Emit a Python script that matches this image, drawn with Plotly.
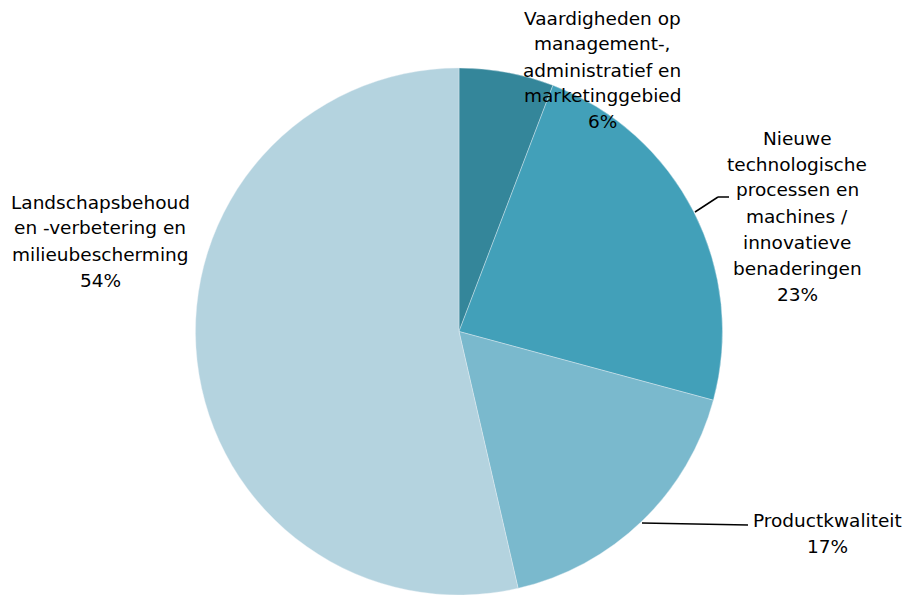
import plotly.graph_objects as go

categories = [
    "Vaardigheden op management-, administratief en marketinggebied",
    "Nieuwe technologische processen en machines / innovatieve benaderingen",
    "Productkwaliteit",
    "Landschapsbehoud en -verbetering en milieubescherming",
]
label_lines = [
    ["Vaardigheden op", "management-,", "administratief en", "marketinggebied"],
    ["Nieuwe", "technologische", "processen en", "machines /", "innovatieve", "benaderingen"],
    ["Productkwaliteit"],
    ["Landschapsbehoud", "en -verbetering en", "milieubescherming"],
]
values = [5.8, 23.4, 17.2, 53.6]
colors = ["#34869a", "#42a0b9", "#7ab9cd", "#b4d3df"]

W, H = 905, 595
# label block centres (px) and first-line y
label_pos = [(602, 18), (797, 138), (827, 520), (100, 202)]
line_step = 26
FONT = dict(family="DejaVu Sans", size=18.5, color="#000000")

fig = go.Figure()
fig.add_trace(go.Pie(
    labels=categories,
    values=values,
    sort=False,
    direction="clockwise",
    rotation=0,
    marker=dict(colors=colors, line=dict(color="#e8f1f4", width=0.4)),
    textinfo="none",
    hoverinfo="label+percent",
    showlegend=False,
    domain=dict(x=[195.5 / W, 722.5 / W], y=[0, (H - 68) / H]),
))

total = sum(values)
for lines, v, (cx, y0) in zip(label_lines, values, label_pos):
    all_lines = lines + [f"{round(v / total * 100)}%"]
    for i, t in enumerate(all_lines):
        y = y0 + i * line_step
        fig.add_annotation(
            x=cx / W, y=1 - y / H, xref="paper", yref="paper",
            text=t, showarrow=False, font=FONT,
            xanchor="center", yanchor="middle",
        )

# leader lines
leaders = [
    [(695, 212), (718, 197), (729, 197)],
    [(642, 523), (748, 525)],
]
for pts in leaders:
    for (x1, y1), (x2, y2) in zip(pts[:-1], pts[1:]):
        fig.add_shape(type="line", xref="paper", yref="paper",
                      x0=x1 / W, y0=1 - y1 / H, x1=x2 / W, y1=1 - y2 / H,
                      line=dict(color="black", width=1.5))

fig.update_layout(
    width=W, height=H,
    margin=dict(l=0, r=0, t=0, b=0),
    paper_bgcolor="white", plot_bgcolor="white",
)
fig.write_html("out.html", config={"displayModeBar": False},
               post_script="document.body.style.margin='0';document.body.style.overflow='hidden';")
